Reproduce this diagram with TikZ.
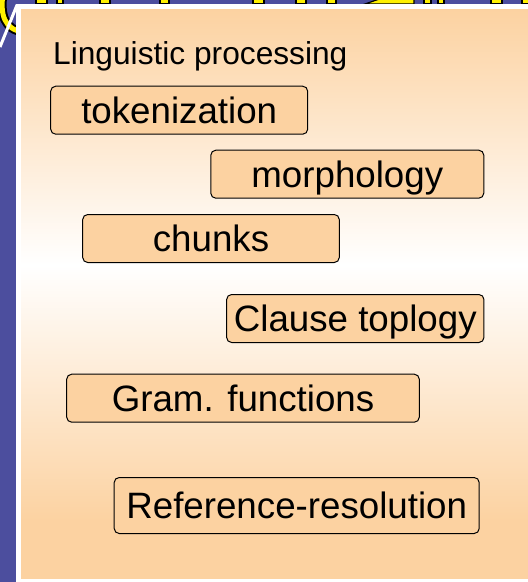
\documentclass[tikz,border=0pt]{standalone}
\usepackage{fontspec}
\setmainfont{Liberation Sans}
\definecolor{slidebg}{RGB}{76,78,158}
\definecolor{peach}{RGB}{252,210,161}
\definecolor{titleyellow}{RGB}{255,240,0}
\tikzset{
  stagebox/.style={draw=black, line width=1pt, rounded corners=5pt, fill=peach,
    inner sep=0pt, minimum height=48pt, text height=26pt, text depth=0pt,
    font=\fontsize{36.7}{40}\selectfont},
  captiontext/.style={inner sep=0pt, anchor=base west, font=\fontsize{31.7}{36}\selectfont},
  glyphcut/.style={fill=titleyellow, draw=black, line width=1.2pt}
}
\begin{document}
\begin{tikzpicture}[x=1pt, y=-1pt]
  \useasboundingbox (0,0) rectangle (528,582);
  % slide background
  \fill[slidebg] (0,0) rectangle (528,582);
  % lower edges of the cropped title lettering
  \draw[black, line width=9pt] (3,-6) .. controls (0,14) and (4,30) .. (24,32);
  \draw[titleyellow, line width=5pt] (3,-6) .. controls (0,14) and (4,30) .. (24,32);
  \foreach \a/\b in {36/47, 57/63, 100/110, 160/169, 253/264, 296/306, 327/336,
                     424/431, 438/444, 491/502, 522/530}
    \filldraw[glyphcut] (\a,-3) rectangle (\b,4);
  \filldraw[glyphcut] (365,4) -- (385,-3) -- (414,-3) -- (414,4) -- cycle;
  % white frame of the panel and its slanted corner stroke
  \draw[white, line width=3pt] (0,47) -- (17,5);
  \fill[white] (16,4) rectangle (530,584);
  % panel fill: peach -> white -> peach
  \shade[top color=peach, bottom color=white] (21,9) rectangle (528,265.2);
  \shade[top color=white, bottom color=peach] (21,265) rectangle (528,521.2);
  \fill[peach] (21,521) rectangle (528,579);
  % caption
  \node[captiontext] (caption) at (53,64) {Linguistic processing};
  % processing stages
  \node[stagebox, minimum width=257pt] (tok) at (179.2,110.2) {tokenization};
  \node[stagebox, minimum width=273pt] (morph) at (347.3,174.2) {morphology};
  \node[stagebox, minimum width=256.6pt] (chunks) at (211,238.5) {chunks};
  \node[stagebox, minimum width=257.3pt] (clause) at (355.3,318.5) {Clause toplogy};
  \node[stagebox, minimum width=352.6pt] (gram) at (243,398.2) {Gram. functions};
  \node[stagebox, minimum width=365pt, minimum height=56pt] (ref) at (296.7,505.5) {Reference-resolution};
\end{tikzpicture}
\end{document}
